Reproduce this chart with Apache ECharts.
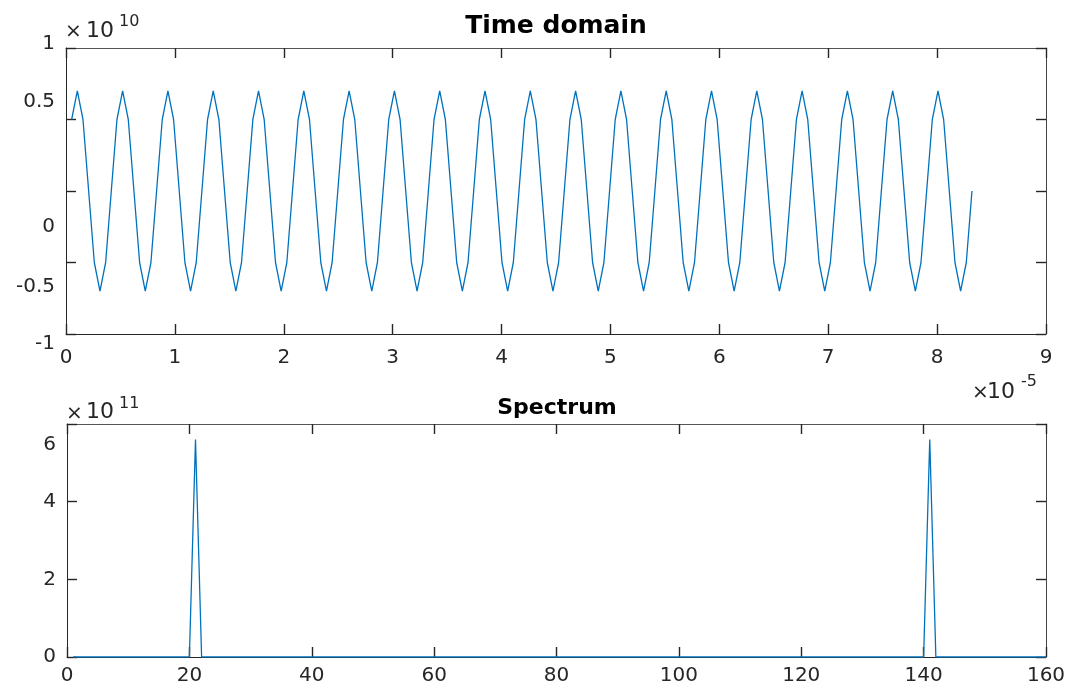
<!DOCTYPE html>
<html><head><meta charset="utf-8">
<script src="https://cdn.jsdelivr.net/npm/echarts@6/dist/echarts.min.js"></script>
<style>html,body{margin:0;padding:0;background:#fff}#c{width:1078px;height:686px}</style>
</head><body><div id="c"></div>
<script>
// ---------- data ----------
// Time domain: time in units of 1e-5 s, signal in units of 1e10
const timeXTicks = [0,1,2,3,4,5,6,7,8,9];
const timeYTicks = [-1,-0.5,0,0.5,1];
const timeValues = [
0.052,0.104,0.156,0.208,0.26,0.312,0.364,0.416,0.468,0.52,
0.572,0.624,0.676,0.728,0.78,0.832,0.884,0.936,0.988,1.04,
1.092,1.144,1.196,1.248,1.3,1.352,1.404,1.456,1.508,1.56,
1.612,1.664,1.716,1.768,1.82,1.872,1.924,1.976,2.028,2.08,
2.132,2.184,2.236,2.288,2.34,2.392,2.444,2.496,2.548,2.6,
2.652,2.704,2.756,2.808,2.86,2.912,2.964,3.016,3.068,3.12,
3.172,3.224,3.276,3.328,3.38,3.432,3.484,3.536,3.588,3.64,
3.692,3.744,3.796,3.848,3.9,3.952,4.004,4.056,4.108,4.16,
4.212,4.264,4.316,4.368,4.42,4.472,4.524,4.576,4.628,4.68,
4.732,4.784,4.836,4.888,4.94,4.992,5.044,5.096,5.148,5.2,
5.252,5.304,5.356,5.408,5.46,5.512,5.564,5.616,5.668,5.72,
5.772,5.824,5.876,5.928,5.98,6.032,6.084,6.136,6.188,6.24,
6.292,6.344,6.396,6.448,6.5,6.552,6.604,6.656,6.708,6.76,
6.812,6.864,6.916,6.968,7.02,7.072,7.124,7.176,7.228,7.28,
7.332,7.384,7.436,7.488,7.54,7.592,7.644,7.696,7.748,7.8,
7.852,7.904,7.956,8.008,8.06,8.112,8.164,8.216,8.268,8.32
];
const signalValues = [
0.5,0.7,0.5,0,-0.5,-0.7,-0.5,0,
0.5,0.7,0.5,0,-0.5,-0.7,-0.5,0,
0.5,0.7,0.5,0,-0.5,-0.7,-0.5,0,
0.5,0.7,0.5,0,-0.5,-0.7,-0.5,0,
0.5,0.7,0.5,0,-0.5,-0.7,-0.5,0,
0.5,0.7,0.5,0,-0.5,-0.7,-0.5,0,
0.5,0.7,0.5,0,-0.5,-0.7,-0.5,0,
0.5,0.7,0.5,0,-0.5,-0.7,-0.5,0,
0.5,0.7,0.5,0,-0.5,-0.7,-0.5,0,
0.5,0.7,0.5,0,-0.5,-0.7,-0.5,0,
0.5,0.7,0.5,0,-0.5,-0.7,-0.5,0,
0.5,0.7,0.5,0,-0.5,-0.7,-0.5,0,
0.5,0.7,0.5,0,-0.5,-0.7,-0.5,0,
0.5,0.7,0.5,0,-0.5,-0.7,-0.5,0,
0.5,0.7,0.5,0,-0.5,-0.7,-0.5,0,
0.5,0.7,0.5,0,-0.5,-0.7,-0.5,0,
0.5,0.7,0.5,0,-0.5,-0.7,-0.5,0,
0.5,0.7,0.5,0,-0.5,-0.7,-0.5,0,
0.5,0.7,0.5,0,-0.5,-0.7,-0.5,0,
0.5,0.7,0.5,0,-0.5,-0.7,-0.5,0
];
// Spectrum: bin number, magnitude in units of 1e11
const specXTicks = [0,20,40,60,80,100,120,140,160];
const specYTicks = [0,2,4,6];
const specBins = [
1,2,3,4,5,6,7,8,9,10,
11,12,13,14,15,16,17,18,19,20,
21,22,23,24,25,26,27,28,29,30,
31,32,33,34,35,36,37,38,39,40,
41,42,43,44,45,46,47,48,49,50,
51,52,53,54,55,56,57,58,59,60,
61,62,63,64,65,66,67,68,69,70,
71,72,73,74,75,76,77,78,79,80,
81,82,83,84,85,86,87,88,89,90,
91,92,93,94,95,96,97,98,99,100,
101,102,103,104,105,106,107,108,109,110,
111,112,113,114,115,116,117,118,119,120,
121,122,123,124,125,126,127,128,129,130,
131,132,133,134,135,136,137,138,139,140,
141,142,143,144,145,146,147,148,149,150,
151,152,153,154,155,156,157,158,159,160
];
const specValues = [
0,0,0,0,0,0,0,0,0,0,
0,0,0,0,0,0,0,0,0,0,
5.6,0,0,0,0,0,0,0,0,0,
0,0,0,0,0,0,0,0,0,0,
0,0,0,0,0,0,0,0,0,0,
0,0,0,0,0,0,0,0,0,0,
0,0,0,0,0,0,0,0,0,0,
0,0,0,0,0,0,0,0,0,0,
0,0,0,0,0,0,0,0,0,0,
0,0,0,0,0,0,0,0,0,0,
0,0,0,0,0,0,0,0,0,0,
0,0,0,0,0,0,0,0,0,0,
0,0,0,0,0,0,0,0,0,0,
0,0,0,0,0,0,0,0,0,0,
5.6,0,0,0,0,0,0,0,0,0,
0,0,0,0,0,0,0,0,0,0
];

// ---------- styling ----------
const FONT = '"DejaVu Sans", sans-serif';
const AX = '#262626';
const LINE = '#0072BD';
const TICK = { show: true, inside: true, length: 10, lineStyle: { color: AX, width: 1.4 } };

function shiftedLabels(shifts, size) {
  const rich = {};
  const keys = {};
  Object.keys(shifts).forEach((k, i) => {
    const s = shifts[k];
    const name = 'k' + i;
    keys[k] = name;
    rich[name] = {
      fontFamily: FONT, fontSize: size, color: AX,
      padding: s < 0 ? [0, 0, -2 * s, 0] : [2 * s, 0, 0, 0]
    };
  });
  rich.n = { fontFamily: FONT, fontSize: size, color: AX };
  return {
    rich,
    formatter: v => {
      const t = String(v);
      return '{' + (keys[t] || 'n') + '|' + t + '}';
    }
  };
}

const topYLabel = shiftedLabels({'1': -4, '0.5': -18, '0': 36, '-0.5': 24, '-1': 10}, 20);
const botYLabel = shiftedLabels({'6': 21}, 20);

function mainX(grid, ticks, margin) {
  return {
    type: 'value', gridIndex: grid, position: 'bottom',
    min: ticks[0], max: ticks[ticks.length - 1], interval: ticks[1] - ticks[0],
    axisLine: { show: true, onZero: false, lineStyle: { color: AX, width: 1 } },
    axisTick: TICK,
    axisLabel: { show: true, margin: margin, color: AX, fontFamily: FONT, fontSize: 20,
                 showMinLabel: true, showMaxLabel: true },
    splitLine: { show: false }
  };
}
function topX(grid, ticks) {
  return {
    type: 'value', gridIndex: grid, position: 'top',
    min: ticks[0], max: ticks[ticks.length - 1], interval: ticks[1] - ticks[0],
    axisLine: { show: true, onZero: false, lineStyle: { color: '#555', width: 1 } },
    axisTick: TICK,
    axisLabel: { show: false }, splitLine: { show: false }
  };
}
function mainY(grid, ticks, lab) {
  return {
    type: 'value', gridIndex: grid, position: 'left',
    min: ticks[0], max: ticks[ticks.length - 1], interval: ticks[1] - ticks[0],
    axisLine: { show: true, onZero: false, lineStyle: { color: AX, width: 1 } },
    axisTick: TICK,
    axisLabel: { show: true, margin: 11, color: AX, fontFamily: FONT, fontSize: 20,
                 showMinLabel: true, showMaxLabel: true,
                 formatter: lab.formatter, rich: lab.rich },
    splitLine: { show: false }
  };
}
function rightY(grid, ticks) {
  return {
    type: 'value', gridIndex: grid, position: 'right',
    min: ticks[0], max: ticks[ticks.length - 1], interval: ticks[1] - ticks[0],
    axisLine: { show: true, onZero: false, lineStyle: { color: '#444', width: 1 } },
    axisTick: TICK,
    axisLabel: { show: false }, splitLine: { show: false }
  };
}

function txt(x, y, text, size, bold) {
  return { type: 'text', x: x, y: y, silent: true, z: 10,
    style: { text: text, font: (bold ? 'bold ' : '') + size + 'px ' + FONT, fill: AX,
             textAlign: 'left', textVerticalAlign: 'middle', align: 'left', verticalAlign: 'middle' } };
}

const option = {
  animation: false,
  backgroundColor: '#ffffff',
  title: [
    { text: 'Time domain', left: 556, top: 14, textAlign: 'center', padding: 0,
      textStyle: { fontFamily: FONT, fontWeight: 'bold', fontSize: 25, color: '#000' } },
    { text: 'Spectrum', left: 557, top: 397, textAlign: 'center', padding: 0,
      textStyle: { fontFamily: FONT, fontWeight: 'bold', fontSize: 22, color: '#000' } }
  ],
  grid: [
    { left: 66, right: 32, top: 48, height: 286, containLabel: false },
    { left: 67, right: 32, top: 424, height: 234, containLabel: false }
  ],
  xAxis: [ mainX(0, timeXTicks, 14), topX(0, timeXTicks), mainX(1, specXTicks, 9), topX(1, specXTicks) ],
  yAxis: [ mainY(0, timeYTicks, topYLabel), rightY(0, timeYTicks), mainY(1, specYTicks, botYLabel), rightY(1, specYTicks) ],
  series: [
    { type: 'line', xAxisIndex: 0, yAxisIndex: 0, showSymbol: false, symbol: 'none',
      lineStyle: { color: LINE, width: 1.3 }, z: 5,
      data: timeValues.map((t, i) => [t, signalValues[i]]) },
    { type: 'line', xAxisIndex: 2, yAxisIndex: 2, showSymbol: false, symbol: 'none',
      lineStyle: { color: LINE, width: 1.3 }, z: 5,
      data: specBins.map((b, i) => [b, specValues[i]]) }
  ],
  graphic: [
    txt(65, 32, '×', 20), txt(86, 31, '10', 22), txt(119, 22, '10', 16),
    txt(66, 414, '×', 20), txt(86, 412, '10', 22), txt(119, 404, '11', 16),
    txt(972, 393, '×', 20), txt(987, 392, '10', 22), txt(1021, 382, '-5', 16)
  ]
};

const chart = echarts.init(document.getElementById('c'), null, { renderer: 'canvas' });
chart.setOption(option);
</script>
</body></html>
